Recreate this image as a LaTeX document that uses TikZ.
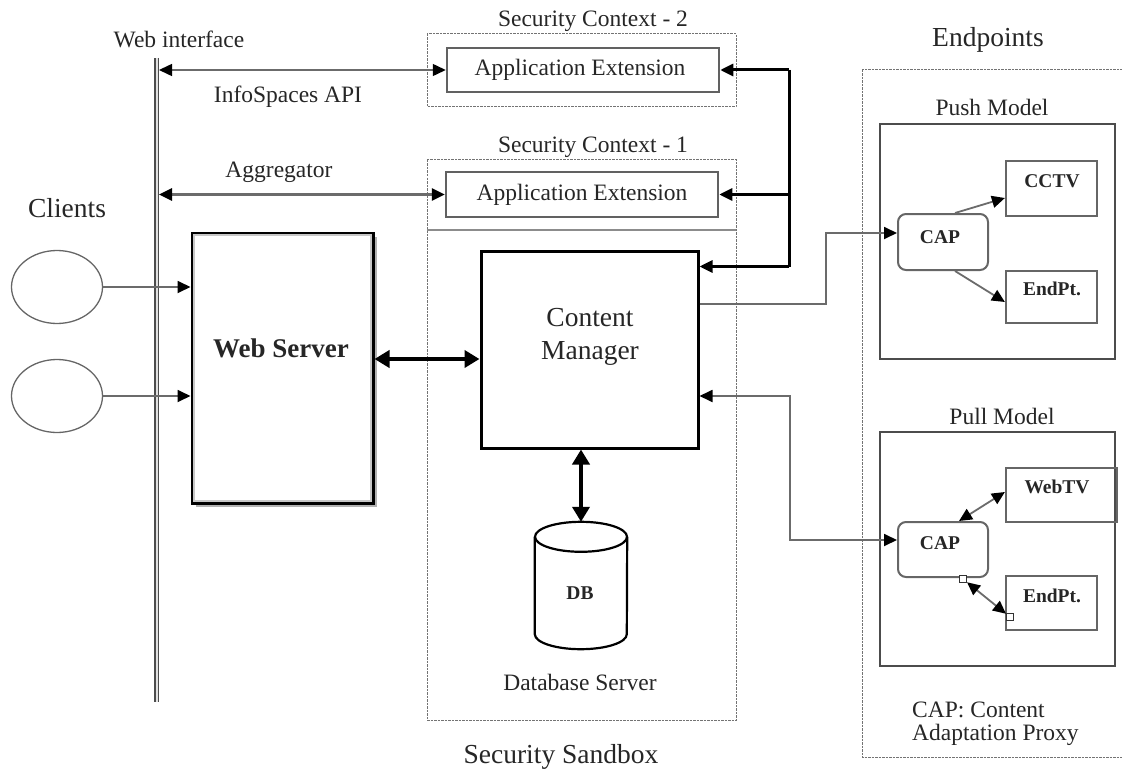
\documentclass[tikz,border=0pt]{standalone}
\usepackage{fontspec}
\setmainfont{Liberation Serif}
\usetikzlibrary{arrows.meta,calc,shadows,shapes.geometric}
\begin{document}
\begin{tikzpicture}[x=1pt,y=-1pt,
  txt/.style={font=\fontsize{23.5}{26}\selectfont, text=black!85, inner sep=0pt},
  head/.style={font=\fontsize{27.5}{31}\selectfont, text=black!85, inner sep=0pt},
  btxt/.style={font=\fontsize{19.5}{22}\selectfont\bfseries, text=black!85, inner sep=0pt},
  dotbox/.style={draw=black!55, line width=1pt, dash pattern=on 2.5pt off 1pt},
  appbox/.style={draw=black!62, line width=2.5pt, inner sep=0pt, minimum width=272pt},
  epbox/.style={draw=black!60, line width=2.2pt, inner sep=0pt},
  capbox/.style={draw=black!60, line width=2pt, rounded corners=8pt, inner sep=0pt, minimum width=90pt},
  model/.style={draw=black!70, line width=2pt, inner sep=0pt, minimum width=235pt},
  conn/.style={draw=black!58, line width=1.8pt},
  thickc/.style={draw=black, line width=3pt},
  tip/.tip={Triangle[length=13pt,width=12pt,color=black]},
  btip/.tip={Triangle[length=15pt,width=17pt,color=black]},
  sq/.style={draw=black!80, fill=white, line width=1pt, minimum size=7pt, inner sep=0pt}
]
\useasboundingbox (0,0) rectangle (1122,773);

% containers
\draw[dotbox] (427,34) rectangle (736,107);
\draw[dotbox] (427,160) rectangle (736,720);
\draw[black!45, line width=2pt] (427,230) -- (736,230);
\draw[dotbox] (862,70) rectangle (1140,757);

% web interface double line
\draw[draw=black!70, double=black!12, double distance=2pt, line width=1.5pt] (156.5,58) -- (156.5,702);
\coordinate (wl) at (159,0);
\coordinate (bus) at (789,0);

% labels
\node[txt] (lwi) at (179,39) {Web interface};
\node[txt] (lapi) at (288,97) {InfoSpaces API};
\node[txt] (lagg) at (279,172) {Aggregator};
\node[head] (lcli) at (67,208) {Clients};
\node[txt] (lsc2) at (593,21) {Security Context - 2};
\node[txt] (lsc1) at (593,147) {Security Context - 1};
\node[head] (lsb) at (561,757) {Security Sandbox};
\node[head] (lend) at (988,40) {Endpoints};
\node[txt] (lpush) at (992,107) {Push Model};
\node[txt] (lpull) at (1002,416) {Pull Model};
\node[txt, anchor=west, align=left, font=\fontsize{23.5}{23}\selectfont] (lcap) at (912,724) {CAP: Content\\Adaptation Proxy};
\node[txt] (ldbs) at (580,682) {Database Server};

% main boxes
\node[appbox, minimum height=44pt] (ae2) at (583,70) {};
\node[txt] (ae2t) at (580,70) {Application Extension};
\node[appbox, minimum height=45pt] (ae1) at (582,194.5) {};
\node[txt] (ae1t) at (582,195) {Application Extension};

\node[draw=black, line width=3pt, fill=white, minimum width=181pt, minimum height=270pt, inner sep=0pt,
      drop shadow={shadow xshift=4pt, shadow yshift=-4pt, opacity=1, fill=black!30}] (ws) at (282.5,368) {};
\draw[black!22, line width=1.5pt] ([shift={(3.5pt,-3.5pt)}]ws.north west) rectangle ([shift={(-3.5pt,3.5pt)}]ws.south east);
\node[head, font=\fontsize{27}{30}\selectfont\bfseries] (wst) at (281,348) {Web Server};

\node[draw=black, line width=3pt, minimum width=217pt, minimum height=197pt, inner sep=0pt] (cm) at (589.5,349.5) {};
\node[head, align=center, font=\fontsize{27.5}{33}\selectfont] (cmt) at (590,337) {Content\\Manager};

\node[draw=black!60, line width=1.3pt, ellipse, minimum width=91pt, minimum height=73pt, inner sep=0pt] (c1) at (57,287) {};
\node[draw=black!60, line width=1.3pt, ellipse, minimum width=91pt, minimum height=73pt, inner sep=0pt] (c2) at (57,396) {};

% database cylinder
\node[minimum width=92pt, minimum height=127pt, inner sep=0pt] (db) at (581,585.5) {};
\draw[black, line width=2.2pt, fill=white] ([yshift=-15pt]db.north west) -- ([yshift=15pt]db.south west)
   arc[start angle=180, end angle=360, x radius=46pt, y radius=15pt] -- ([yshift=-15pt]db.north east);
\draw[black, line width=2.2pt] ([yshift=-15pt]db.north) ellipse [x radius=46pt, y radius=15pt];
\node[btxt] (dbt) at (580,593) {DB};

% endpoints
\node[model, minimum height=235pt] (push) at (997.5,241.5) {};
\node[model, minimum height=234pt] (pull) at (997.5,549) {};
\node[epbox, minimum width=91pt, minimum height=55pt] (cctv) at (1051.5,188.5) {};
\node[btxt] (cctvt) at (1052,181) {CCTV};
\node[epbox, minimum width=91pt, minimum height=52pt] (ep1) at (1051.5,297) {};
\node[btxt] (ep1t) at (1052,289) {EndPt.};
\node[capbox, minimum height=56pt] (cap1) at (943,242) {};
\node[btxt] (cap1t) at (940,237) {CAP};
\node[epbox, minimum width=111pt, minimum height=54pt] (webtv) at (1061.5,495) {};
\node[btxt] (webtvt) at (1057,487) {WebTV};
\node[capbox, minimum height=55pt] (cap2) at (943,549.5) {};
\node[btxt] (cap2t) at (940,543) {CAP};
\node[epbox, minimum width=91pt, minimum height=54pt] (ep2) at (1051.5,603) {};
\node[btxt] (ep2t) at (1052,596) {EndPt.};

% connectors: web interface
\draw[conn, line width=1.5pt, {tip}-{tip}] (ae2.west -| wl) -- (ae2.west);
\draw[conn, line width=2.6pt, {tip}-{tip}] (ae1.west -| wl) -- (ae1.west);
\draw[conn, -{tip}] (c1.east) -- (c1.east -| ws.west);
\draw[conn, -{tip}] (c2.east) -- (c2.east -| ws.west);

% bus to extensions
\coordinate (cmtop) at ([yshift=-17pt]cm.north east);
\draw[thickc] (ae2.east -| bus) -- (cmtop -| bus);
\draw[thickc, -{tip}] (ae2.east -| bus) -- (ae2.east);
\draw[thickc, -{tip}] (ae1.east -| bus) -- (ae1.east);
\draw[thickc, -{tip}] (cmtop -| bus) -- (cmtop);

% web server <-> content manager, content manager <-> db
\draw[black, line width=4pt, {btip}-{btip}] (ws.east |- 0,359) -- (cm.west |- 0,359);
\draw[black, line width=4pt, {btip}-{btip}] (cm.south -| db.north) -- (db.north);

% to endpoints
\coordinate (pushA) at ([yshift=45.5pt]cm.east);
\coordinate (pushB) at ([yshift=9pt]cap1.west);
\draw[conn, -{tip}] (pushA) -- (pushA -| 826,0) -- (pushB -| 826,0) -- (pushB);
\coordinate (pullA) at ([yshift=-46.5pt]cm.east);
\coordinate (pullB) at ([yshift=9.5pt]cap2.west);
\draw[conn, {tip}-{tip}] (pullA) -- (pullA -| 790,0) -- (pullB -| 790,0) -- (pullB);

% inside models
\draw[conn, -{tip}] ([xshift=12pt]cap1.north) -- ([yshift=-9.5pt]cctv.west);
\draw[conn, -{tip}] ([xshift=12pt]cap1.south) -- ([yshift=-5pt]ep1.west);
\draw[conn, {tip}-{tip}] ([xshift=16pt]cap2.north) -- ([yshift=3pt]webtv.west);
\node[sq] (sq1) at (963,579) {};
\node[sq] (sq2) at (1010,617) {};
\draw[conn, {tip}-{tip}] (sq1) -- (sq2);
\end{tikzpicture}
\end{document}
